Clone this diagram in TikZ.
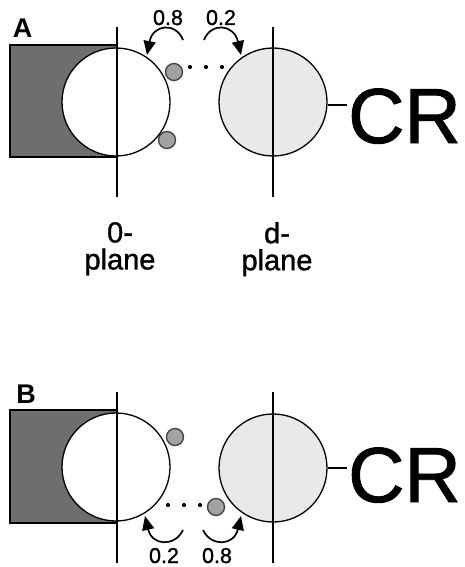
\documentclass[tikz,border=0pt]{standalone}
\usepackage{fontspec}
\setmainfont{Liberation Sans}
\newfontfamily\scanfont[FakeBold=1.2]{Liberation Sans}
\usetikzlibrary{arrows.meta}
\definecolor{darkfill}{HTML}{6E6E6E}
\definecolor{lightfill}{HTML}{E9E9E9}
\definecolor{ballfill}{HTML}{A2A2A2}
\definecolor{ballline}{HTML}{404040}
\tikzset{
  cell/.style={circle, draw=black, line width=1.3pt, minimum size=108pt, inner sep=0pt},
  ball/.style={circle, draw=ballline, fill=ballfill, line width=1.3pt, minimum size=17pt, inner sep=0pt},
  dotpt/.style={circle, fill=black, minimum size=4.2pt, inner sep=0pt},
  plate/.style={line width=1.8pt},
  hop/.style={line width=1.7pt, -{Triangle[length=14pt,width=12pt]}},
  prob/.style={font=\scanfont\fontsize{21.5}{24}\selectfont, inner sep=0pt, anchor=base},
  planelbl/.style={font=\scanfont\fontsize{29}{27}\selectfont, inner sep=0pt, anchor=north, align=center},
  crlbl/.style={font=\scanfont\fontsize{78}{80}\selectfont, inner sep=0pt, anchor=base west},
  panel/.style={font=\bfseries\fontsize{27}{24}\selectfont, inner sep=0pt, anchor=base},
}
\begin{document}
\begin{tikzpicture}[x=1pt,y=-1pt]
\useasboundingbox (0,0) rectangle (464,567);
\fill[white] (0,0) rectangle (464,567);
% ---------- Panel A ----------
\node[panel] (lA) at (22.5,38) {A};
\fill[darkfill] (10,45) rectangle (117,157);
\draw[line width=1.3pt] (117,45) -- (10,45) -- (10,157) -- (117,157);
\node[cell, fill=white] (eA) at (116,102) {};
\node[cell, fill=lightfill] (cA) at (273,102) {};
\coordinate (pA1) at (117,27); \coordinate (pA2) at (117,197);
\coordinate (qA1) at (273,27); \coordinate (qA2) at (273,197);
\draw[plate] (pA1) -- (pA2);
\draw[plate] (qA1) -- (qA2);
\node[ball] (bA1) at (174,72) {};
\node[ball] (bA2) at (167,140) {};
\node[dotpt] (dA1) at (190,67) {};
\node[dotpt] (dA2) at (206,67) {};
\node[dotpt] (dA3) at (222,67) {};
\coordinate (hA1s) at (183,40); \coordinate (hA1e) at (147,55);
\coordinate (hA2s) at (204,40); \coordinate (hA2e) at (241,55);
\draw[hop] (hA1s) .. controls (176,22) and (153,24) .. (hA1e);
\draw[hop] (hA2s) .. controls (211,22) and (234,24) .. (hA2e);
\node[prob] (nA1) at (168,25) {0.8};
\node[prob] (nA2) at (221,25) {0.2};
\node[crlbl] (crA) at (348,143) {CR};
\coordinate (crAl) at (347,105);
\draw[line width=1.5pt] (cA.east |- crAl) -- (crAl);
\node[planelbl] (zA) at (120,222) {0-\\plane};
\node[planelbl] (dA) at (277,222) {d-\\plane};
% ---------- Panel B ----------
\node[panel] (lB) at (26,403) {B};
\fill[darkfill] (10,410) rectangle (117,523);
\draw[line width=1.3pt] (117,410) -- (10,410) -- (10,523) -- (117,523);
\node[cell, fill=white] (eB) at (116,467) {};
\node[cell, fill=lightfill] (cB) at (273,468) {};
\coordinate (pB1) at (117,392); \coordinate (pB2) at (117,563);
\coordinate (qB1) at (273,392); \coordinate (qB2) at (273,563);
\draw[plate] (pB1) -- (pB2);
\draw[plate] (qB1) -- (qB2);
\node[ball] (bB1) at (175,437) {};
\node[ball] (bB2) at (216,507) {};
\node[dotpt] (dB1) at (168,505) {};
\node[dotpt] (dB2) at (184,505) {};
\node[dotpt] (dB3) at (200,505) {};
\coordinate (hB1s) at (183,530); \coordinate (hB1e) at (145,516);
\coordinate (hB2s) at (203,530); \coordinate (hB2e) at (241,516);
\draw[hop] (hB1s) .. controls (175,547) and (152,546) .. (hB1e);
\draw[hop] (hB2s) .. controls (211,547) and (234,546) .. (hB2e);
\node[prob] (nB1) at (164,563) {0.2};
\node[prob] (nB2) at (217,563) {0.8};
\node[crlbl] (crB) at (348,502) {CR};
\coordinate (crBl) at (347,468);
\draw[line width=1.5pt] (cB.east |- crBl) -- (crBl);
\end{tikzpicture}
\end{document}
